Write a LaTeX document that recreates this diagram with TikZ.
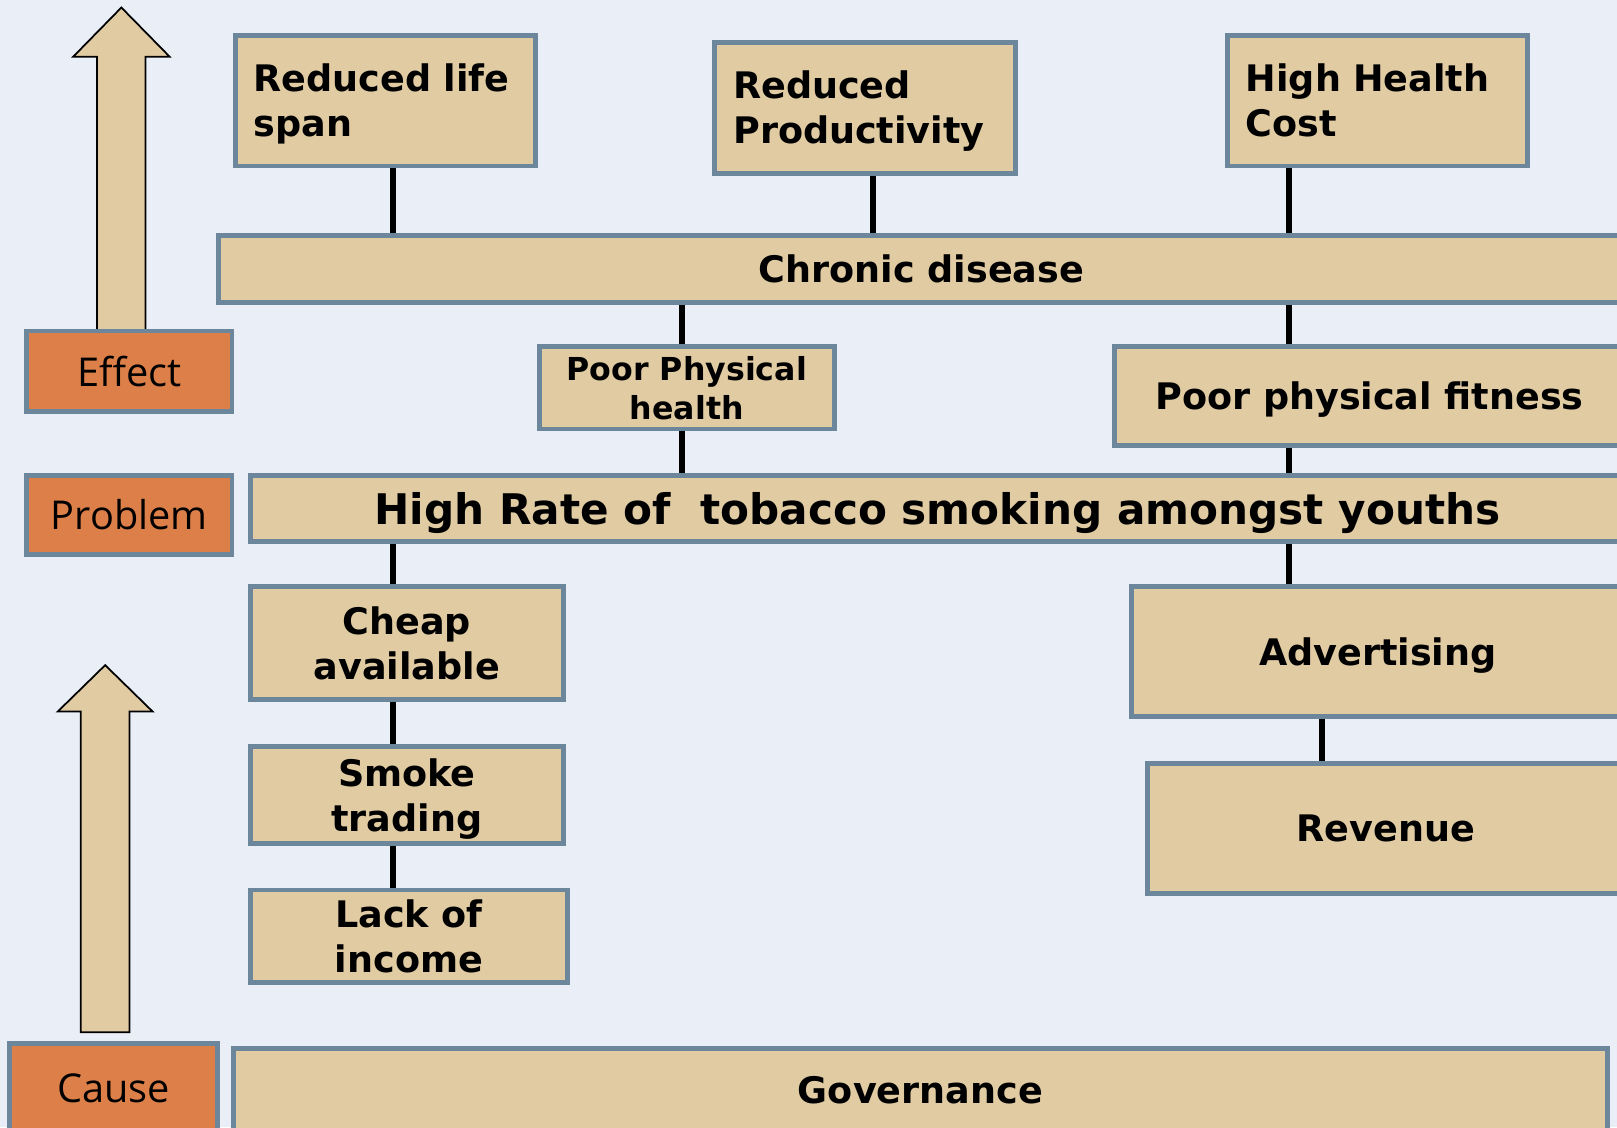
\documentclass[tikz,border=0pt]{standalone}
\usepackage{fontspec}
\setmainfont{DejaVu Sans}
\newfontfamily\etiq{Open Sans}
\usepackage{tikz}
\usetikzlibrary{positioning}
\definecolor{tanCaja}{RGB}{224,203,162}
\definecolor{bordeCaja}{RGB}{108,135,156}
\definecolor{naranja}{RGB}{220,127,72}
\definecolor{fondo}{RGB}{234,239,247}
\newcommand{\pxu}{0.0103125cm}

\begin{document}
\begin{tikzpicture}[x=\pxu, y=-\pxu,
            caja/.style={rectangle, draw=bordeCaja, fill=tanCaja, line width=1.4pt, inner sep=0pt, text depth=0pt, align=center, font=\bfseries\fontsize{10.4}{12.8}\selectfont},
            cajaizq/.style={caja, align=left, inner xsep=18*\pxu, text width=255*\pxu, text depth=13pt},
            etiqueta/.style={rectangle, draw=bordeCaja, fill=naranja, line width=1.4pt, inner sep=0pt, font=\etiq\fontsize{11.3}{13}\selectfont},
            linea/.style={line width=1.7pt, black},
            flechon/.style={draw=black, fill=tanCaja, line width=0.5pt}]

            \useasboundingbox (0,0) rectangle (1568,1093);
            \fill[fondo] (0,0) rectangle (1568,1093);
            \clip (0,0) rectangle (1568,1093);

            % big arrows
            \draw[flechon] (94,330) -- (94,55) -- (71,55) -- (117.7,7.3) -- (164.5,55) -- (141,55) -- (141,330) -- cycle;
            \draw[flechon] (78.4,1001) -- (78.4,690) -- (56,690) -- (102,645) -- (148,690) -- (125.6,690) -- (125.6,1001) -- cycle;

            % side tags
            \node[etiqueta, minimum width=199*\pxu, minimum height=78*\pxu] (eff) at (125.5,360) {Effect};
            \node[etiqueta, minimum width=199*\pxu, minimum height=77*\pxu] (prob) at (125.5,499.5) {Problem};
            \node[etiqueta, minimum width=202*\pxu, minimum height=86*\pxu] (cause) at (110,1055) {Cause};

            % effects
            \node[cajaizq, minimum height=127*\pxu] (life) at (373.5,97.5) {Reduced life\\span};
            \node[cajaizq, text width=256*\pxu, minimum height=127*\pxu] (prod) at (839,104.5) {Reduced\\Productivity};
            \node[cajaizq, minimum height=127*\pxu] (cost) at (1335.5,97.5) {High Health\\Cost};
            \node[caja, minimum width=1363*\pxu, minimum height=65*\pxu] (chron) at (893.5,260.5) {Chronic disease};
            \node[caja, minimum width=286*\pxu, minimum height=80*\pxu, font=\bfseries\fontsize{9}{11}\selectfont] (phys) at (666,376) {Poor Physical\\health};
            \node[caja, minimum width=494*\pxu, minimum height=96*\pxu] (fit) at (1328,384) {Poor physical fitness};

            % problem
            \node[caja, minimum width=1332*\pxu, minimum height=64*\pxu, font=\bfseries\fontsize{12}{14}\selectfont] (rate) at (909,493) {High Rate of\ \ tobacco smoking amongst youths};

            % causes
            \node[caja, minimum width=303*\pxu, minimum height=109*\pxu] (cheap) at (394.5,623.5) {Cheap\\available};
            \node[caja, minimum width=303*\pxu, minimum height=94*\pxu] (smoke) at (394.5,771) {Smoke\\trading};
            \node[caja, minimum width=307*\pxu, minimum height=90*\pxu] (income) at (396.5,908) {Lack of\\income};
            \node[caja, minimum width=478*\pxu, minimum height=126*\pxu] (adv) at (1336,632) {Advertising};
            \node[caja, minimum width=462*\pxu, minimum height=126*\pxu] (rev) at (1344,803) {Revenue};
            \node[caja, minimum width=1333*\pxu, minimum height=80*\pxu] (gov) at (892.5,1057) {Governance};

            % connector columns
            \coordinate (colA) at (381,0);
            \coordinate (colB) at (661,0);
            \coordinate (colC) at (847,0);
            \coordinate (colD) at (1250,0);
            \coordinate (colE) at (1282,0);

            \draw[linea] (life.south -| colA) -- (chron.north -| colA);
            \draw[linea] (prod.south -| colC) -- (chron.north -| colC);
            \draw[linea] (cost.south -| colD) -- (chron.north -| colD);
            \draw[linea] (chron.south -| colB) -- (phys.north -| colB);
            \draw[linea] (phys.south -| colB) -- (rate.north -| colB);
            \draw[linea] (chron.south -| colD) -- (fit.north -| colD);
            \draw[linea] (fit.south -| colD) -- (rate.north -| colD);
            \draw[linea] (rate.south -| colA) -- (cheap.north -| colA);
            \draw[linea] (cheap.south -| colA) -- (smoke.north -| colA);
            \draw[linea] (smoke.south -| colA) -- (income.north -| colA);
            \draw[linea] (rate.south -| colD) -- (adv.north -| colD);
            \draw[linea] (adv.south -| colE) -- (rev.north -| colE);
        \end{tikzpicture}
\end{document}
